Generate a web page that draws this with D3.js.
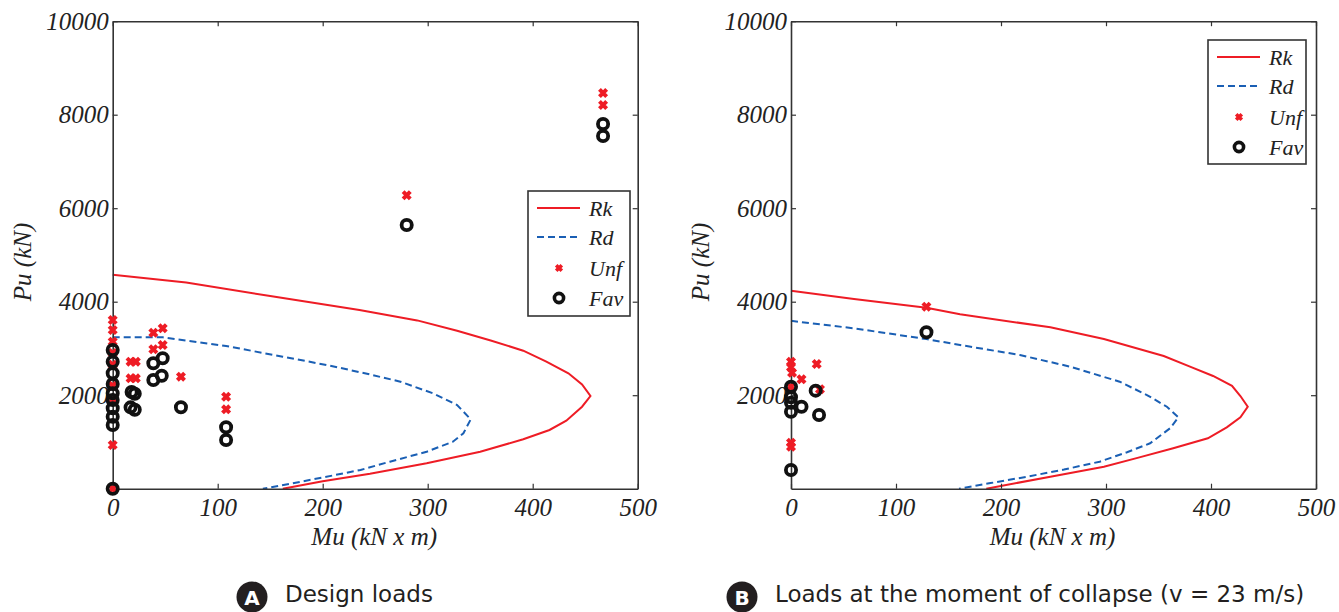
<!DOCTYPE html>
<html><head><meta charset="utf-8">
<script src="https://cdn.jsdelivr.net/npm/d3@7"></script>
<style>
body{margin:0;background:#fff}
.ser{font-family:"Liberation Serif","Times New Roman",Times,"Nimbus Roman",serif;font-style:italic}
.san{font-family:"DejaVu Sans",Verdana,sans-serif}
</style>
</head><body><svg id="c" width="1339" height="612"></svg>
<script>
// ---------- data ----------
const xTicks = [0, 100, 200, 300, 400, 500];
const yTicks = [2000, 4000, 6000, 8000, 10000];
const legendLabels = ["Rk", "Rd", "Unf", "Fav"];
const panelLetters = ["A", "B"];
const panelTitles = ["Design loads", "Loads at the moment of collapse (v = 23 m/s)"];

// Panel A interaction curves [Mu, Pu]
const rkA = [[0,4575],[70,4410],[150,4120],[235,3822],[290,3600],[328,3380],[360,3170],[391,2952],[413,2717],[434,2468],[447,2230],[455,1983],[447,1754],[432,1455],[416,1256],[391,1057],[350,791],[299,543],[245,320],[200,160],[162,0]];
const rdA = [[0,3240],[48,3238],[108,3052],[162,2824],[205,2640],[240,2470],[274,2289],[305,2040],[328,1790],[341,1484],[334,1185],[324,1005],[299,791],[264,578],[236,400],[200,240],[170,110],[143,0]];
// Panel A loads
const unfA = [[0,0],[0,3609],[0,3395],[0,3145],[0,2900],[0,2650],[0,2200],[0,1900],[0,935],[17,2717],[22,2717],[17,2361],[22,2361],[38.7,3337],[47.6,3431],[38.7,2982],[47.6,3074],[65,2396],[108,1968],[108,1698],[280,6277],[467,8464],[467,8207]];
const favA = [[0,0],[0,2967],[0,2717],[0,2468],[0,2240],[0,2040],[0,1897],[0,1720],[0,1540],[0,1362],[18,2070],[21,2030],[17,1740],[21,1690],[38.7,2682],[47.6,2789],[38.7,2325],[46.7,2417],[65,1741],[108,1313],[108,1042],[280,5640],[467,7801],[467,7544]];

// Panel B interaction curves
const rkB = [[0,4235],[60,4060],[129,3870],[161,3730],[247,3452],[298,3202],[355,2838],[380,2610],[402,2411],[420,2200],[428,1983],[435,1754],[428,1527],[415,1313],[397,1078],[364,864],[330,660],[298,471],[247,257],[186,0]];
const rdB = [[0,3590],[60,3430],[129,3200],[161,3074],[218,2860],[266,2610],[313,2289],[339,2004],[358,1754],[369,1527],[361,1292],[342,971],[320,780],[294,578],[260,410],[225,257],[190,120],[160,0]];
// Panel B loads
const unfB = [[0,2717],[0,2597],[1,2481],[10,2340],[24.5,2667],[27.6,2126],[0,2182],[0,984],[0,898],[129,3893]];
const favB = [[0,2182],[0,1955],[0,1840],[0,1647],[10,1754],[23.5,2097],[26.7,1576],[0,400],[129,3345]];

// ---------- drawing ----------
const svg = d3.select("#c");
const RED = "#ee1c25", BLUE = "#1a5fb4", FRAME = "#333";

const panels = [
  {x0:112.7, x1:637.7, rk:rkA, rd:rdA, unf:unfA, fav:favA, leg:{x:528, y:191, w:102, h:125}},
  {x0:791,   x1:1316,  rk:rkB, rd:rdB, unf:unfB, fav:favB, leg:{x:1208, y:40, w:98, h:124}}
];
const yBottom = 488.7, yTop = 21.2;

panels.forEach((p, i) => {
  const x = d3.scaleLinear().domain([0, 500]).range([p.x0, p.x1]);
  const y = d3.scaleLinear().domain([0, 10000]).range([yBottom, yTop]);
  const g = svg.append("g");

  // curves
  const line = d3.line().x(d => x(d[0])).y(d => y(d[1]));
  g.append("path").datum(p.rk).attr("d", line).attr("fill", "none")
    .attr("stroke", RED).attr("stroke-width", 2);
  g.append("path").datum(p.rd).attr("d", line).attr("fill", "none")
    .attr("stroke", BLUE).attr("stroke-width", 2).attr("stroke-dasharray", "7,4");

  // axes (inward ticks, box)
  const fmt = d3.format("d");
  const axB = g.append("g").attr("transform", `translate(0,${yBottom})`)
    .call(d3.axisBottom(x).tickValues(xTicks).tickFormat(fmt).tickSize(-5).tickSizeOuter(0).tickPadding(9));
  const axT = g.append("g").attr("transform", `translate(0,${yTop})`)
    .call(d3.axisTop(x).tickValues(xTicks).tickSize(-5).tickSizeOuter(0).tickFormat(""));
  const axL = g.append("g").attr("transform", `translate(${p.x0},0)`)
    .call(d3.axisLeft(y).tickValues(yTicks).tickFormat(fmt).tickSize(-5).tickSizeOuter(0).tickPadding(4));
  const axR = g.append("g").attr("transform", `translate(${p.x1},0)`)
    .call(d3.axisRight(y).tickValues(yTicks).tickSize(-5).tickSizeOuter(0).tickFormat(""));
  [axB, axT, axL, axR].forEach(a => {
    a.attr("font-family", null).attr("font-size", null);
    a.selectAll("path.domain").attr("stroke", FRAME).attr("stroke-width", 1.6);
    a.selectAll(".tick line").attr("stroke", FRAME).attr("stroke-width", 1.2);
    a.selectAll("text").attr("class", "ser").style("font-size", "25px").attr("fill", "#222");
  });
  axB.selectAll("text").attr("dy", "0.72em");

  // axis titles
  g.append("text").attr("class", "ser").attr("x", (p.x0 + p.x1) / 2 - 1).attr("y", 545)
    .attr("text-anchor", "middle").style("font-size", "25px").attr("fill", "#222").text("Mu (kN x m)");
  g.append("text").attr("class", "ser").attr("transform", `translate(${p.x0 - 82},262) rotate(-90)`)
    .attr("text-anchor", "middle").style("font-size", "25px").attr("fill", "#222").text("Pu (kN)");

  // markers
  const cross = "M-3.6,-3.6L3.6,3.6M-3.6,3.6L3.6,-3.6";
  g.append("g").selectAll("path").data(p.unf).join("path")
    .attr("transform", d => `translate(${x(d[0])},${y(d[1])})`)
    .attr("d", cross).attr("stroke", RED).attr("stroke-width", 4).attr("fill", "none");
  g.append("g").selectAll("circle").data(p.fav).join("circle")
    .attr("cx", d => x(d[0])).attr("cy", d => y(d[1])).attr("r", 5.1)
    .attr("fill", "none").attr("stroke", "#111").attr("stroke-width", 3.8);

  // legend
  const L = p.leg;
  const lg = g.append("g").attr("transform", `translate(${L.x},${L.y})`);
  lg.append("rect").attr("width", L.w).attr("height", L.h).attr("fill", "#fff")
    .attr("stroke", FRAME).attr("stroke-width", 1.6);
  const rows = [17, 46, 77, 107];
  lg.append("line").attr("x1", 9).attr("x2", 52).attr("y1", rows[0]).attr("y2", rows[0])
    .attr("stroke", RED).attr("stroke-width", 2);
  lg.append("line").attr("x1", 9).attr("x2", 52).attr("y1", rows[1]).attr("y2", rows[1])
    .attr("stroke", BLUE).attr("stroke-width", 2).attr("stroke-dasharray", "7,4");
  lg.append("path").attr("transform", `translate(31,${rows[2]})`).attr("d", "M-2.8,-2.8L2.8,2.8M-2.8,2.8L2.8,-2.8")
    .attr("stroke", RED).attr("stroke-width", 3.6);
  lg.append("circle").attr("cx", 31).attr("cy", rows[3]).attr("r", 4.6).attr("fill", "none")
    .attr("stroke", "#111").attr("stroke-width", 3.6);
  lg.selectAll("text.lab").data(legendLabels).join("text").attr("class", "ser")
    .attr("x", 61).attr("y", (d, k) => rows[k]).attr("dy", "0.35em")
    .style("font-size", "22px").attr("fill", "#222").text(d => d);
});

// panel captions
const capX = [252, 742];
panelLetters.forEach((l, i) => {
  svg.append("circle").attr("cx", capX[i]).attr("cy", 597).attr("r", 15.5).attr("fill", "#231f20");
  svg.append("text").attr("class", "san").attr("x", capX[i]).attr("y", 598).attr("dy", "0.36em").attr("text-anchor", "middle")
    .style("font-weight", "bold").style("font-size", "20px").attr("fill", "#fff").text(l);
  svg.append("text").attr("class", "san").attr("x", capX[i] + 33).attr("y", 594).attr("dy", "0.36em")
    .style("font-size", "23px").attr("fill", "#231f20").text(panelTitles[i]);
});
</script>
</body></html>
